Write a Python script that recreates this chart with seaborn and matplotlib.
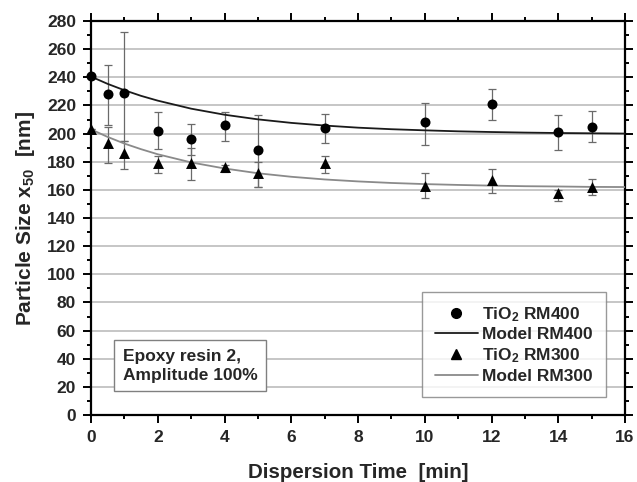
import numpy as np
import pandas as pd
import matplotlib
matplotlib.use("Agg")
import matplotlib.pyplot as plt
import seaborn as sns
from matplotlib.ticker import MultipleLocator
from matplotlib.lines import Line2D

# ---- data ----
t_meas = [0, 0.5, 1, 2, 3, 4, 5, 7, 10, 12, 14, 15]
rm400 = [241, 228, 229, 202, 196, 206, 188, 204, 208, 221, 201, 205]
rm400_lo = [241, 206, 195, 189, 185, 195, 162, 193, 192, 210, 188, 194]
rm400_hi = [241, 249, 272, 215, 207, 215, 213, 214, 222, 232, 213, 216]
rm300 = [203, 193, 186, 179, 179, 176, 172, 179, 163, 167, 158, 162]
rm300_lo = [203, 179, 175, 172, 167, 173, 162, 172, 154, 158, 152, 156]
rm300_hi = [203, 205, 195, 184, 190, 178, 180, 184, 172, 175, 160, 168]

t_model = [0, 0.5, 1, 1.5, 2, 3, 4, 5, 6, 7, 8, 9, 10, 11, 12, 13, 14, 15, 16]
model400 = [240.5, 235.3, 230.8, 226.8, 223.4, 217.7, 213.4, 210.1, 207.6, 205.7,
            204.2, 203.1, 202.3, 201.6, 201.1, 200.7, 200.4, 200.2, 200.0]
model300 = [203.0, 197.6, 192.9, 188.9, 185.3, 179.5, 175.2, 171.8, 169.3, 167.4,
            166.0, 164.9, 164.1, 163.5, 163.0, 162.6, 162.4, 162.1, 162.0]

labels = [r"TiO$_{\mathbf{2}}$ RM400", "Model RM400", r"TiO$_{\mathbf{2}}$ RM300", "Model RM300"]
x_label = "Dispersion Time  [min]"
y_label = r"Particle Size x$_{\mathbf{50}}$  [nm]"
note = "Epoxy resin 2,\nAmplitude 100%"

# ---- style ----
sns.set_style("ticks")
plt.rcParams["font.family"] = ["Liberation Sans", "DejaVu Sans"]
plt.rcParams["font.weight"] = "bold"
plt.rcParams["mathtext.fontset"] = "custom"
plt.rcParams["mathtext.rm"] = "Liberation Sans:bold"
plt.rcParams["mathtext.bf"] = "Liberation Sans:bold"
plt.rcParams["mathtext.it"] = "Liberation Sans:bold"

fig = plt.figure(figsize=(6.37, 4.82), dpi=100)
ax = fig.add_axes([91 / 637, 1 - 415 / 482, 534 / 637, 394 / 482])

meas = pd.DataFrame({"t": t_meas, "rm400": rm400, "rm300": rm300})
mod = pd.DataFrame({"t": t_model, "m400": model400, "m300": model300})

ax.set_axisbelow(True)
ax.yaxis.grid(True, color="#c2c2c2", linewidth=1.3)
ax.xaxis.grid(False)

# error bars
ax.errorbar(t_meas, rm400,
            yerr=[np.array(rm400) - np.array(rm400_lo), np.array(rm400_hi) - np.array(rm400)],
            fmt="none", ecolor="#6a6a6a", elinewidth=0.9, capsize=2.7, capthick=0.9, zorder=2)
ax.errorbar(t_meas, rm300,
            yerr=[np.array(rm300) - np.array(rm300_lo), np.array(rm300_hi) - np.array(rm300)],
            fmt="none", ecolor="#6a6a6a", elinewidth=0.9, capsize=2.7, capthick=0.9, zorder=2)

sns.lineplot(data=mod, x="t", y="m400", ax=ax, color="#1a1a1a", linewidth=1.3, zorder=3)
sns.lineplot(data=mod, x="t", y="m300", ax=ax, color="#8a8a8a", linewidth=1.3, zorder=3)
sns.scatterplot(data=meas, x="t", y="rm400", ax=ax, marker="o", s=52, color="black",
                edgecolor="black", linewidth=0, zorder=4, clip_on=False)
sns.scatterplot(data=meas, x="t", y="rm300", ax=ax, marker="^", s=62, color="black",
                edgecolor="black", linewidth=0, zorder=4, clip_on=False)

ax.set_xlim(0, 16)
ax.set_ylim(0, 280)
ax.xaxis.set_major_locator(MultipleLocator(2))
ax.xaxis.set_minor_locator(MultipleLocator(1))
ax.yaxis.set_major_locator(MultipleLocator(20))
ax.yaxis.set_minor_locator(MultipleLocator(10))
ax.tick_params(which="both", direction="out", top=True, right=True, width=1.4, color="black")
ax.tick_params(which="major", length=5.8, labelsize=12.5, pad=5)
ax.tick_params(which="minor", length=3)
for lab in ax.get_xticklabels() + ax.get_yticklabels():
    lab.set_fontweight("bold")
for sp in ax.spines.values():
    sp.set_visible(True)
    sp.set_linewidth(1.6)
    sp.set_color("black")

ax.set_xlabel(x_label, fontsize=14.8, fontweight="bold", labelpad=13)
ax.set_ylabel(y_label, fontsize=15, fontweight="bold", labelpad=7)

handles = [
    Line2D([], [], marker="o", color="black", linestyle="none", markersize=7),
    Line2D([], [], color="#1a1a1a", linewidth=1.3),
    Line2D([], [], marker="^", color="black", linestyle="none", markersize=7.5),
    Line2D([], [], color="#8a8a8a", linewidth=1.3),
]
leg = ax.legend(handles, labels, loc="lower right", bbox_to_anchor=(0.9645, 0.0457),
                borderaxespad=0, frameon=True, fancybox=False, edgecolor="#808080",
                prop={"size": 12.5, "weight": "bold"}, handlelength=2.5,
                labelspacing=0.22, borderpad=0.75, handletextpad=0.25)
leg.get_frame().set_linewidth(1.0)

ax.text(0.060, 0.082, note, transform=ax.transAxes, fontsize=12.5, fontweight="bold",
        ha="left", va="bottom", linespacing=1.3,
        bbox=dict(boxstyle="square,pad=0.5", facecolor="white", edgecolor="#808080", linewidth=1.0),
        zorder=5)

fig.savefig("out.png", dpi=100)
